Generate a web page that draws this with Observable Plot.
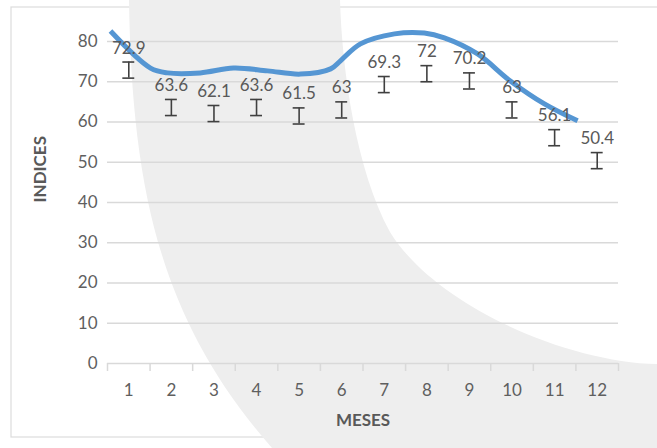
<!DOCTYPE html>
<html>
<head>
<meta charset="utf-8">
<script src="https://cdn.jsdelivr.net/npm/d3@7"></script>
<script src="https://cdn.jsdelivr.net/npm/@observablehq/plot@0.6"></script>
<style>
  body { margin: 0; background: #fff; }
  #wrap { position: relative; width: 657px; height: 448px; overflow: hidden; }
  #deco, #chart { position: absolute; left: 0; top: 0; }
</style>
</head>
<body>
<div id="wrap">
  <svg id="deco" width="657" height="448">
    <rect x="11" y="7" width="700" height="430" fill="none" stroke="#dcdcdc" stroke-width="1.2"/>
    <path d="M129,0 C132,190 160,320 272,448 L657,448 L657,364 C565,362 435,305 390,232 C356,170 342,70 340,0 Z" fill="#eeeeee"/>
  </svg>
  <div id="chart"></div>
</div>
<script>
const months = [1, 2, 3, 4, 5, 6, 7, 8, 9, 10, 11, 12];
const indices = [72.9, 63.6, 62.1, 63.6, 61.5, 63, 69.3, 72, 70.2, 63, 56.1, 50.4];
const errorHalf = 2.0;
const yTicks = [0, 10, 20, 30, 40, 50, 60, 70, 80];
const bandEdges = [0.5, 1.5, 2.5, 3.5, 4.5, 5.5, 6.5, 7.5, 8.5, 9.5, 10.5, 11.5, 12.5];
const trendX = [0.57, 1.51, 1.91, 2.68, 3.46, 4.26, 5.03, 5.74, 5.97, 6.44, 7.24, 7.94, 8.41, 9.19, 9.96, 10.76, 11.54];
const trendY = [82.6, 73.4, 72.2, 72.2, 73.4, 72.7, 71.9, 73.2, 75.2, 79.4, 81.9, 82.1, 80.9, 76.9, 70.2, 64.5, 60.3];

const points = months.map((m, i) => ({m, v: indices[i]}));
const trend = trendX.map((x, i) => ({x, y: trendY[i]}));
const capW = 0.14;

const chart = Plot.plot({
  width: 657,
  height: 448,
  marginLeft: 107,
  marginRight: 39,
  marginTop: 41,
  marginBottom: 85,
  style: {background: "transparent", fontFamily: "Lato, 'Open Sans', sans-serif", color: "#595959"},
  x: {domain: [0.5, 12.5]},
  y: {domain: [0, 80]},
  marks: [
    Plot.gridY(yTicks.slice(1), {stroke: "#d9d9d9", strokeOpacity: 1, strokeWidth: 1.5}),
    Plot.ruleY([0], {stroke: "#d9d9d9", strokeWidth: 1.5}),
    Plot.axisX(bandEdges, {tickSize: 8, tickFormat: () => "", stroke: "#d9d9d9", strokeWidth: 1.5}),
    Plot.axisX(months, {tickSize: 0, tickPadding: 20, fontSize: 17, fill: "#5f5f5f", label: null}),
    Plot.axisY(yTicks, {tickSize: 0, tickPadding: 10, fontSize: 17, fill: "#5f5f5f", label: null}),
    Plot.text(["INDICES"], {frameAnchor: "left", dx: -67, rotate: -90, fontWeight: "bold", fontSize: 17, fill: "#595959"}),
    Plot.text(["MESES"], {frameAnchor: "bottom", dy: 62, fontWeight: "bold", fontSize: 17, fill: "#595959"}),
    Plot.ruleX(points, {x: "m", y1: d => d.v - errorHalf, y2: d => d.v + errorHalf, stroke: "#404040", strokeWidth: 1.6}),
    Plot.ruleY(points, {y: d => d.v - errorHalf, x1: d => d.m - capW, x2: d => d.m + capW, stroke: "#404040", strokeWidth: 1.6}),
    Plot.ruleY(points, {y: d => d.v + errorHalf, x1: d => d.m - capW, x2: d => d.m + capW, stroke: "#404040", strokeWidth: 1.6}),
    Plot.line(trend, {x: "x", y: "y", curve: "catmull-rom", stroke: "#5596d3", strokeWidth: 5, strokeLinecap: "butt"}),
    Plot.text(points, {x: "m", y: "v", text: d => String(d.v), dy: -22, fontSize: 17, fill: "#595959"})
  ]
});
document.getElementById("chart").appendChild(chart);
</script>
</body>
</html>
